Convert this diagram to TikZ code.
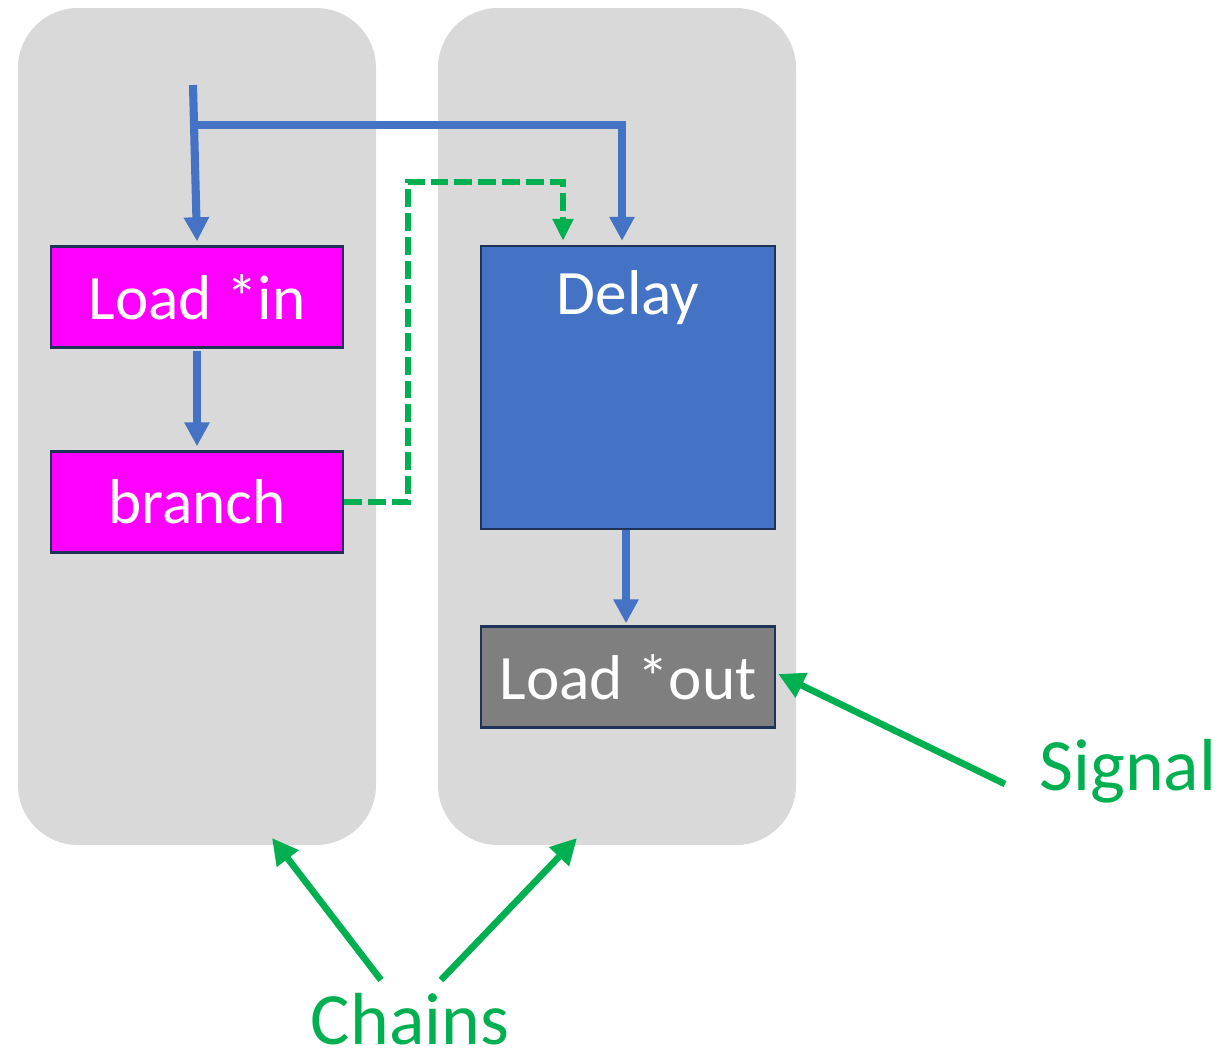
\documentclass[tikz,border=0pt]{standalone}
\usepackage{fontspec}
\setmainfont{Carlito}
\usetikzlibrary{arrows.meta,positioning}
\definecolor{panelgray}{HTML}{D9D9D9}
\definecolor{flowblue}{HTML}{4472C4}
\definecolor{sigreen}{HTML}{00B050}
\definecolor{edgenavy}{HTML}{1F3258}
\definecolor{loadpink}{HTML}{FF00FF}
\definecolor{outgray}{HTML}{7F7F7F}
\begin{document}
\begin{tikzpicture}[
 panel/.style={fill=panelgray,rounded corners=0.6cm,minimum width=3.58cm,minimum height=8.37cm,inner sep=0pt},
 box/.style={draw=edgenavy,line width=0.7pt,text=white,font=\fontsize{18}{21}\selectfont,minimum width=2.92cm,minimum height=1.01cm,inner sep=0pt},
 flow/.style={draw=flowblue,line width=2.3pt,-{Triangle[width=0.24cm,length=0.24cm]}},
 ctrl/.style={draw=sigreen,line width=1.6pt,dash pattern=on 5.1pt off 1.7pt,-{Triangle[width=0.2cm,length=0.22cm]}},
 note/.style={text=sigreen,font=\fontsize{21}{25}\selectfont,inner sep=0pt},
 pointer/.style={draw=sigreen,line width=1.9pt,-{Triangle[width=0.26cm,length=0.26cm]}}]
\useasboundingbox (0,0) rectangle (12.22,10.58);
% chains
\node[panel] (lp) at (1.97,6.315) {};
\node[panel] (rp) at (6.17,6.315) {};
% left chain
\node[box,fill=loadpink] (ldin) at (1.97,7.61) {Load *in};
\node[box,fill=loadpink] (br) at (1.97,5.56) {branch};
% right chain
\node[box,fill=flowblue,minimum width=2.94cm,minimum height=2.83cm,text depth=1.9cm] (dl) at (6.28,6.705) {Delay};
\node[box,fill=outgray,minimum width=2.94cm] (ldout) at (6.28,3.81) {Load *out};
\coordinate (src) at (1.93,9.73);
\coordinate (split) at (1.955,9.33);
\draw[flow] (src) -- ([yshift=0.04cm]ldin.north);
\draw[flow] (split) -| ([xshift=-0.06cm,yshift=0.04cm]dl.north);
\draw[flow] ([yshift=-0.02cm]ldin.south) -- ([yshift=0.04cm]br.north);
\draw[flow] ([xshift=-0.02cm]dl.south) -- ([xshift=-0.02cm,yshift=0.02cm]ldout.north);
\coordinate (bend) at (4.08,8.76);
\draw[ctrl] (br.east) -| (bend) -| ([xshift=-0.65cm,yshift=0.04cm]dl.north);
% labels
\node[note,anchor=base] (sig) at (11.28,2.68) {Signal};
\node[note,anchor=base] (ch) at (4.10,0.14) {Chains};
\coordinate (sigfoot) at (10.05,2.74);
\draw[pointer] (sigfoot) -- ([xshift=0.02cm,yshift=0.03cm]ldout.east);
\coordinate (chl) at (3.81,0.78);
\coordinate (chr) at (4.41,0.78);
\draw[pointer] (chl) -- (2.72,2.20);
\draw[pointer] (chr) -- (5.77,2.20);
\end{tikzpicture}
\end{document}
